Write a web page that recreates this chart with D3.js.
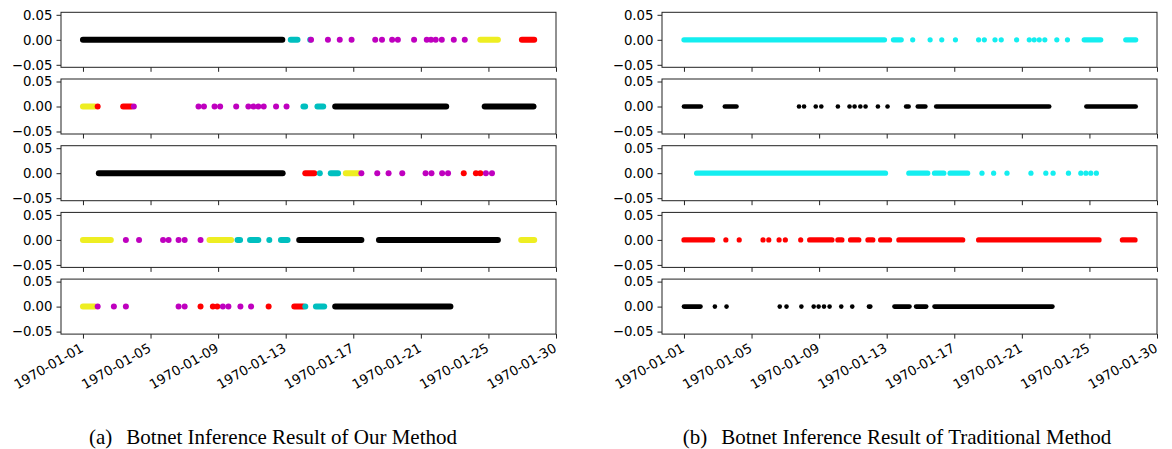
<!DOCTYPE html>
<html>
<head>
<meta charset="utf-8">
<script src="https://cdn.jsdelivr.net/npm/d3@7"></script>
<style>
    body { margin: 0; background: #fff; }
    svg { display: block; }
    .caption { font-family: "Liberation Serif", "Times New Roman", serif; font-size: 21px; fill: #000; }
</style>
</head>
<body>
<svg id="chart" width="1172" height="449"></svg>
<script>
// x axis: days after 1970-01-01, ticks evenly spaced as in the picture
const tickDays = [0, 4, 8, 12, 16, 20, 24, 28];
const tickLabels = ["1970-01-01", "1970-01-05", "1970-01-09", "1970-01-13",
                    "1970-01-17", "1970-01-21", "1970-01-25", "1970-01-30"];
const yTicks = [0.05, 0.00, -0.05];

const colors = {
    k: "#000000",
    c: "#00bfbf",
    m: "#bf00bf",
    y: "#eeee22",
    r: "#ff0000",
    a: "#14eef0"
};

// each entry: [startDay, endDay, colour]; start == end is one point,
// otherwise a dense run of points
const ours1 = [[0.0, 11.8, "k"], [12.3, 12.7, "c"], [13.45, 13.45, "c"], [13.5, 13.5, "m"],
    [14.5, 14.5, "m"], [15.2, 15.2, "m"], [15.9, 15.9, "m"], [17.3, 17.3, "m"], [17.7, 17.7, "m"],
    [18.3, 18.3, "m"], [18.64, 18.64, "m"], [19.6, 19.6, "m"], [20.35, 20.35, "m"], [20.6, 20.6, "m"],
    [20.88, 20.88, "m"], [21.24, 21.24, "m"], [21.95, 21.95, "m"], [22.6, 22.6, "m"],
    [23.52, 24.56, "y"], [25.98, 26.71, "r"]];
const ours2 = [[0.0, 0.7, "y"], [0.87, 0.87, "r"], [2.38, 2.87, "r"], [3.01, 3.01, "m"],
    [6.84, 6.84, "m"], [7.16, 7.16, "m"], [7.79, 7.79, "m"], [8.12, 8.12, "m"], [9.07, 9.07, "m"],
    [9.79, 9.79, "m"], [10.09, 10.09, "m"], [10.38, 10.38, "m"], [10.7, 10.7, "m"], [11.43, 11.43, "m"],
    [12.05, 12.05, "m"], [13.05, 13.15, "c"], [13.88, 14.22, "c"], [14.93, 21.5, "k"], [23.78, 26.67, "k"]];
const ours3 = [[0.94, 11.82, "k"], [13.16, 13.69, "r"], [14.02, 14.02, "c"], [14.67, 15.1, "c"],
    [15.56, 16.34, "y"], [16.48, 16.48, "m"], [17.42, 17.42, "m"], [18.09, 18.09, "m"], [18.9, 18.9, "m"],
    [20.28, 20.28, "m"], [20.63, 20.63, "m"], [21.26, 21.26, "m"], [21.61, 21.61, "m"], [22.54, 22.54, "r"],
    [23.26, 23.26, "r"], [23.52, 23.52, "r"], [23.85, 23.85, "m"], [24.21, 24.21, "m"]];
const ours4 = [[0.0, 1.65, "y"], [2.54, 2.54, "m"], [3.32, 3.32, "m"], [4.74, 4.74, "m"], [5.07, 5.07, "m"],
    [5.66, 5.66, "m"], [6.02, 6.02, "m"], [6.96, 6.96, "m"], [7.49, 8.77, "y"], [9.15, 9.3, "c"],
    [9.89, 10.38, "c"], [11.03, 11.03, "c"], [11.72, 12.11, "c"], [12.8, 16.48, "k"], [17.52, 24.56, "k"],
    [25.94, 26.71, "y"]];
const ours5 = [[0.0, 0.7, "y"], [0.87, 0.87, "m"], [1.83, 1.83, "m"], [2.54, 2.54, "m"], [5.66, 5.66, "m"],
    [6.02, 6.02, "m"], [6.96, 6.96, "r"], [7.69, 7.69, "r"], [7.95, 7.95, "r"], [8.28, 8.28, "m"],
    [8.61, 8.61, "m"], [9.32, 9.32, "m"], [9.95, 9.95, "m"], [10.99, 10.99, "r"], [12.51, 13.04, "r"],
    [13.16, 13.16, "c"], [13.79, 14.28, "c"], [14.93, 21.75, "k"]];

const trad1 = [[0.0, 11.87, "a"], [12.4, 12.86, "a"], [13.54, 13.54, "a"], [14.57, 14.57, "a"],
    [15.26, 15.26, "a"], [16.07, 16.07, "a"], [17.44, 17.44, "a"], [17.78, 17.78, "a"], [18.41, 18.41, "a"],
    [18.78, 18.78, "a"], [19.69, 19.69, "a"], [20.44, 20.44, "a"], [20.73, 20.73, "a"], [21.03, 21.03, "a"],
    [21.36, 21.36, "a"], [22.07, 22.07, "a"], [22.7, 22.7, "a"], [23.69, 24.67, "a"], [26.15, 26.74, "a"]];
const trad2 = [[0.0, 1.0, "k"], [2.42, 3.11, "k"], [6.81, 6.81, "k"], [7.11, 7.11, "k"], [7.8, 7.8, "k"],
    [8.13, 8.13, "k"], [9.11, 9.11, "k"], [9.8, 9.8, "k"], [10.1, 10.1, "k"], [10.44, 10.44, "k"],
    [10.75, 10.75, "k"], [11.48, 11.48, "k"], [12.05, 12.05, "k"], [13.15, 13.3, "k"], [13.84, 14.29, "k"],
    [14.93, 21.62, "k"], [23.82, 26.74, "k"]];
const trad3 = [[0.75, 11.93, "a"], [13.31, 14.43, "a"], [14.83, 15.38, "a"], [15.75, 16.79, "a"],
    [17.64, 17.64, "a"], [18.33, 18.33, "a"], [19.12, 19.12, "a"], [20.54, 20.54, "a"], [21.42, 21.42, "a"],
    [21.85, 21.85, "a"], [22.76, 22.76, "a"], [23.49, 23.49, "a"], [23.79, 23.79, "a"], [24.08, 24.08, "a"],
    [24.41, 24.41, "a"]];
const trad4 = [[0.0, 1.7, "r"], [2.48, 2.48, "r"], [3.27, 3.27, "r"], [4.68, 4.68, "r"], [5.02, 5.02, "r"],
    [5.63, 5.63, "r"], [6.0, 6.0, "r"], [6.91, 6.91, "r"], [7.44, 8.76, "r"], [9.11, 9.35, "r"],
    [9.86, 10.35, "r"], [10.89, 11.18, "r"], [11.64, 12.17, "r"], [12.72, 16.5, "r"], [17.44, 24.57, "r"],
    [25.95, 26.7, "r"]];
const trad5 = [[0.0, 0.98, "k"], [1.83, 1.83, "k"], [2.52, 2.52, "k"], [5.67, 5.67, "k"], [6.07, 6.07, "k"],
    [6.95, 6.95, "k"], [7.68, 7.68, "k"], [7.97, 7.97, "k"], [8.29, 8.29, "k"], [8.62, 8.62, "k"],
    [9.31, 9.31, "k"], [9.96, 9.96, "k"], [10.95, 11.03, "k"], [12.46, 13.35, "k"], [13.74, 14.34, "k"],
    [14.83, 21.81, "k"]];

const captions = ["Botnet Inference Result of Our Method", "Botnet Inference Result of Traditional Method"];
const captionTags = ["(a)", "(b)"];

const svg = d3.select("#chart");

const panelH = 55;
const panelPitch = 66.7;
const firstTop = 12.3;

const columns = [
    { left: 61, right: 556, panels: [ours1, ours2, ours3, ours4, ours5], r: 3, capX: 273 },
    { left: 662, right: 1157, panels: [trad1, trad2, trad3, trad4, trad5], r: 2.6, capX: 897 }
];

columns.forEach((col, ci) => {
    const x = d3.scaleLinear()
        .domain([-1.3, 28])
        .range([col.left, col.right]);

    col.panels.forEach((data, pi) => {
        const top = firstTop + pi * panelPitch;
        const last = pi === col.panels.length - 1;
        const y = d3.scaleLinear()
            .domain([-0.055, 0.055])
            .range([top + panelH, top]);

        const g = svg.append("g");

        // y axis
        g.append("g")
            .attr("transform", `translate(${col.left}, 0)`)
            .call(d3.axisLeft(y)
                .tickValues(yTicks)
                .tickSize(4.5)
                .tickPadding(4)
                .tickFormat(d3.format(".2f")))
            .call((a) => a.select(".domain").remove());

        // x axis (labels on the last panel only)
        const xAxis = g.append("g")
            .attr("transform", `translate(0, ${top + panelH})`)
            .call(d3.axisBottom(x)
                .tickValues(tickDays)
                .tickSize(4.5)
                .tickFormat((d, i) => last ? tickLabels[i] : ""))
            .call((a) => a.select(".domain").remove());

        if (last)
        {
            xAxis.selectAll(".tick text")
                .attr("text-anchor", "end")
                .attr("y", 0)
                .attr("dy", "0.75em")
                .attr("transform", "translate(-4, 8) rotate(-30)");
        }

        g.selectAll(".tick line").attr("stroke", "#222");
        g.selectAll(".tick text")
            .attr("font-family", "DejaVu Sans")
            .attr("font-size", 13.3)
            .attr("fill", "#000");

        // frame
        g.append("rect")
            .attr("x", col.left)
            .attr("y", top)
            .attr("width", col.right - col.left)
            .attr("height", panelH)
            .attr("fill", "none")
            .attr("stroke", "#222")
            .attr("stroke-width", 1);

        const rad = (d) => (ci === 1 && d[2] === "k") ? 2.3 : col.r;

        // dense runs
        g.selectAll("line.run")
            .data(data.filter((d) => d[1] > d[0]))
            .enter()
            .append("line")
            .attr("class", "run")
            .attr("x1", (d) => x(d[0]))
            .attr("x2", (d) => x(d[1]))
            .attr("y1", y(0))
            .attr("y2", y(0))
            .attr("stroke", (d) => colors[d[2]])
            .attr("stroke-width", (d) => 2 * rad(d))
            .attr("stroke-linecap", "round");

        // single points
        g.selectAll("circle")
            .data(data.filter((d) => d[1] === d[0]))
            .enter()
            .append("circle")
            .attr("cx", (d) => x(d[0]))
            .attr("cy", y(0))
            .attr("r", (d) => rad(d))
            .attr("fill", (d) => colors[d[2]]);
    });

    const cap = svg.append("text")
        .attr("class", "caption")
        .attr("x", col.capX)
        .attr("y", 444)
        .attr("text-anchor", "middle");
    cap.append("tspan").text(captionTags[ci]);
    cap.append("tspan").attr("dx", 14).text(captions[ci]);
});
</script>
</body>
</html>
